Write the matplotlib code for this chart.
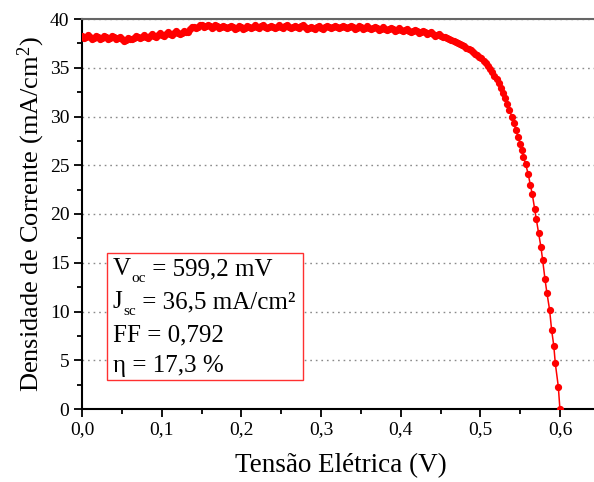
import matplotlib
matplotlib.use("Agg")
import matplotlib.pyplot as plt
from matplotlib.patches import Rectangle
import numpy as np

plt.rcParams['font.family'] = ['Liberation Serif', 'DejaVu Serif']
plt.rcParams['mathtext.fontset'] = 'custom'
plt.rcParams['mathtext.rm'] = 'Liberation Serif'
plt.rcParams['mathtext.it'] = 'Liberation Serif:italic'

# ---- data ----
V_flat = [0.000, 0.005, 0.010, 0.015, 0.020, 0.025, 0.030, 0.035, 0.040, 0.045,
          0.050, 0.055, 0.060, 0.065, 0.070, 0.075, 0.080, 0.085, 0.090, 0.095,
          0.100, 0.105, 0.110, 0.115, 0.120, 0.125, 0.130, 0.135, 0.140, 0.145,
          0.150, 0.155, 0.160, 0.165, 0.170, 0.175, 0.180, 0.185, 0.190, 0.195,
          0.200, 0.205, 0.210, 0.215, 0.220, 0.225, 0.230, 0.235, 0.240, 0.245,
          0.250, 0.255, 0.260, 0.265, 0.270, 0.275, 0.280, 0.285, 0.290, 0.295,
          0.300, 0.305, 0.310, 0.315, 0.320, 0.325, 0.330, 0.335, 0.340, 0.345,
          0.350, 0.355, 0.360, 0.365, 0.370, 0.375, 0.380, 0.385, 0.390, 0.395,
          0.400, 0.405, 0.410, 0.415, 0.420, 0.425, 0.430, 0.435, 0.440, 0.445]
J_flat = [38.25, 38.15, 38.20, 38.10, 38.15, 38.05, 38.15, 38.10, 38.15, 38.05,
          37.95, 37.85, 38.00, 38.10, 38.15, 38.20, 38.20, 38.30, 38.25, 38.35,
          38.40, 38.45, 38.50, 38.55, 38.60, 38.60, 38.70, 39.00, 39.15, 39.20,
          39.35, 39.30, 39.25, 39.20, 39.25, 39.20, 39.15, 39.20, 39.15, 39.10,
          39.15, 39.10, 39.15, 39.20, 39.20, 39.25, 39.20, 39.20, 39.15, 39.20,
          39.20, 39.25, 39.20, 39.15, 39.20, 39.25, 39.20, 39.10, 39.05, 39.15,
          39.10, 39.20, 39.15, 39.20, 39.15, 39.20, 39.15, 39.20, 39.15, 39.10,
          39.15, 39.10, 39.10, 39.05, 39.05, 39.00, 39.00, 38.95, 38.95, 38.90,
          38.90, 38.85, 38.80, 38.80, 38.75, 38.70, 38.65, 38.60, 38.50, 38.40]
V_flat2 = [0.0025, 0.0075, 0.0125, 0.0175, 0.0225, 0.0275, 0.0325, 0.0375, 0.0425, 0.0475,
           0.0525, 0.0575, 0.0625, 0.0675, 0.0725, 0.0775, 0.0825, 0.0875, 0.0925, 0.0975,
           0.1025, 0.1075, 0.1125, 0.1175, 0.1225, 0.1275, 0.1325, 0.1375, 0.1425, 0.1475,
           0.1525, 0.1575, 0.1625, 0.1675, 0.1725, 0.1775, 0.1825, 0.1875, 0.1925, 0.1975,
           0.2025, 0.2075, 0.2125, 0.2175, 0.2225, 0.2275, 0.2325, 0.2375, 0.2425, 0.2475,
           0.2525, 0.2575, 0.2625, 0.2675, 0.2725, 0.2775, 0.2825, 0.2875, 0.2925, 0.2975,
           0.3025, 0.3075, 0.3125, 0.3175, 0.3225, 0.3275, 0.3325, 0.3375, 0.3425, 0.3475,
           0.3525, 0.3575, 0.3625, 0.3675, 0.3725, 0.3775, 0.3825, 0.3875, 0.3925, 0.3975,
           0.4025, 0.4075, 0.4125, 0.4175, 0.4225, 0.4275, 0.4325, 0.4375, 0.4425, 0.4475]
J_flat2 = [38.05, 38.33, 38.00, 38.28, 37.95, 38.25, 37.97, 38.28, 37.95, 38.15,
           37.75, 38.05, 37.90, 38.28, 38.02, 38.35, 38.10, 38.42, 38.15, 38.53,
           38.28, 38.63, 38.38, 38.73, 38.45, 38.80, 38.70, 39.22, 39.03, 39.42,
           39.18, 39.42, 39.08, 39.37, 39.08, 39.32, 39.03, 39.32, 38.98, 39.27,
           38.98, 39.27, 39.03, 39.35, 39.08, 39.37, 39.05, 39.32, 39.03, 39.35,
           39.08, 39.37, 39.03, 39.32, 39.08, 39.37, 39.00, 39.22, 38.95, 39.27,
           39.00, 39.32, 39.03, 39.32, 39.03, 39.32, 39.03, 39.32, 38.98, 39.27,
           38.98, 39.25, 38.93, 39.20, 38.88, 39.15, 38.83, 39.10, 38.78, 39.05,
           38.73, 38.97, 38.65, 38.92, 38.58, 38.82, 38.48, 38.70, 38.30, 38.45]
V_knee = [0.4500, 0.4527, 0.4554, 0.4581, 0.4608, 0.4635, 0.4662, 0.4689, 0.4716, 0.4743,
          0.4770, 0.4797, 0.4824, 0.4851, 0.4878, 0.4905, 0.4932, 0.4959, 0.4986, 0.5013,
          0.5040, 0.5067, 0.5094, 0.5121, 0.5148, 0.5175, 0.5202, 0.5229, 0.5256, 0.5283,
          0.5310, 0.5337, 0.5364, 0.5391, 0.5418, 0.5445, 0.5472, 0.5499, 0.5520]
J_knee = [38.30, 38.20, 38.15, 38.05, 37.95, 37.85, 37.75, 37.65, 37.55, 37.45,
          37.30, 37.20, 37.05, 36.90, 36.80, 36.60, 36.45, 36.30, 36.15, 35.95,
          35.70, 35.45, 35.20, 34.90, 34.55, 34.20, 33.80, 33.40, 32.95, 32.45,
          31.90, 31.30, 30.70, 30.00, 29.30, 28.60, 27.90, 27.20, 26.60]
V_tail = [0.5540, 0.5567, 0.5600, 0.5625, 0.5650, 0.5680, 0.5700, 0.5730, 0.5759,
          0.5780, 0.5810, 0.5834, 0.5867, 0.5893, 0.5920, 0.5939, 0.5977, 0.5997]
J_tail = [25.80, 25.10, 24.07, 23.00, 22.05, 20.50, 19.50, 18.05, 16.60,
          15.30, 13.30, 11.90, 10.20, 8.10, 6.50, 4.69, 2.29, 0.00]

x_ticks = [0.0, 0.1, 0.2, 0.3, 0.4, 0.5, 0.6]
x_tick_labels = ['0,0', '0,1', '0,2', '0,3', '0,4', '0,5', '0,6']
y_ticks = [0, 5, 10, 15, 20, 25, 30, 35, 40]
# (main symbol, subscript, rest)
info_lines = [('V', 'oc', ' = 599,2 mV'),
              ('J', 'sc', ' = 36,5 mA/cm²'),
              ('FF = 0,792', '', ''),
              ('η = 17,3 %', '', '')]

V = np.concatenate([V_flat, V_flat2, V_knee, V_tail])
J = np.concatenate([J_flat, J_flat2, J_knee, J_tail])
order = np.argsort(V)
V = V[order]
J = J[order]

fig = plt.figure(figsize=(5.94, 4.82), dpi=100)
ax = fig.add_axes([82/594, 1-409/482, 518/594, 390/482])

ax.plot(V, J, color='#ff0000', lw=1.1, marker='o', ms=4.2, mec='#ff0000', mfc='#ff0000', zorder=3)

ax.set_xlim(0, 0.65)
ax.set_ylim(0, 40)
ax.set_xticks(x_ticks)
ax.set_xticklabels(x_tick_labels)
ax.set_xticks([0.05, 0.15, 0.25, 0.35, 0.45, 0.55], minor=True)
ax.set_yticks(y_ticks)
ax.set_yticks([2.5, 7.5, 12.5, 17.5, 22.5, 27.5, 32.5, 37.5], minor=True)

ax.tick_params(axis='both', which='major', direction='out', length=6, width=1.3,
               labelsize=14, pad=3, colors='black')
ax.tick_params(axis='both', which='minor', direction='out', length=3.5, width=1.3)

ax.yaxis.grid(True, which='major', linestyle=(0, (1.2, 2.8)), color='#8a8a8a', lw=1.0)
ax.set_axisbelow(True)

for s in ['left', 'bottom']:
    ax.spines[s].set_linewidth(1.5)
    ax.spines[s].set_color('black')
ax.spines['top'].set_color('#666666')
ax.spines['top'].set_linewidth(1.5)
ax.spines['right'].set_visible(False)

ax.set_xlabel('Tensão Elétrica (V)', fontsize=19.5, labelpad=10.5)
ax.set_ylabel('Densidade de Corrente (mA/cm$^2$)', fontsize=19, labelpad=2)

rect = Rectangle((0.0477, 0.0744), 0.427 - 0.0477, 0.401 - 0.0744, transform=ax.transAxes,
                 facecolor='white', edgecolor='#ff3030', lw=1.0, zorder=4)
ax.add_patch(rect)
baselines = [0.3436, 0.259, 0.172, 0.095]
for (main, sub, rest), yb in zip(info_lines, baselines):
    t1 = ax.text(0.0593, yb, main, transform=ax.transAxes, fontsize=18, va='baseline',
                 ha='left', zorder=5)
    if sub:
        t2 = ax.annotate(sub, xy=(1, yb), xycoords=(t1, ax.transAxes), xytext=(0.5, -4.8),
                         textcoords='offset points', fontsize=11, va='baseline', ha='left',
                         zorder=5, annotation_clip=False)
        ax.annotate(rest, xy=(1, yb), xycoords=(t2, ax.transAxes), xytext=(0, 0),
                    textcoords='offset points', fontsize=18, va='baseline', ha='left',
                    zorder=5, annotation_clip=False)

fig.savefig('out.png', dpi=100)
